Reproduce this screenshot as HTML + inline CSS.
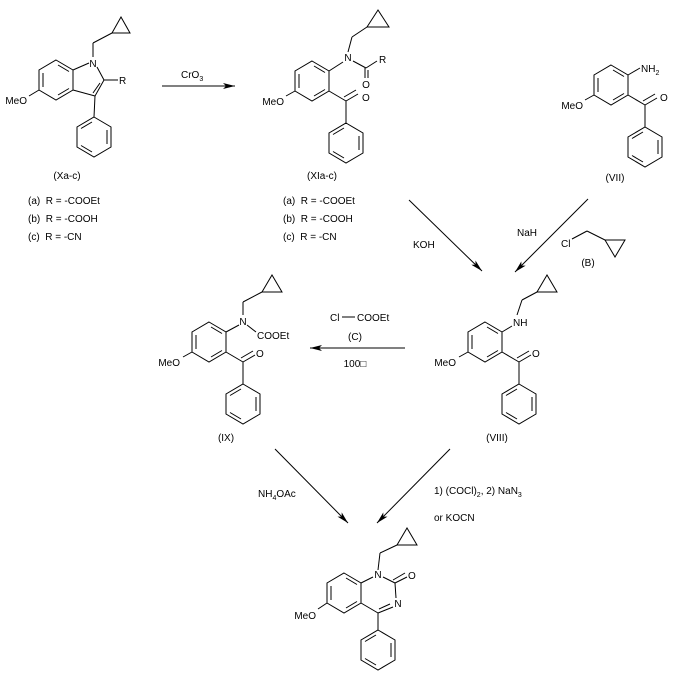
<!DOCTYPE html>
<html><head><meta charset="utf-8"><style>
html,body{margin:0;padding:0;background:#fff}
svg{display:block}
text{font-family:"Liberation Sans",sans-serif;font-size:10px;fill:#000;white-space:pre}
</style></head><body>
<svg width="674" height="684" viewBox="0 0 674 684" xmlns="http://www.w3.org/2000/svg">
<defs>
<marker id="ah" viewBox="0 0 12 6" refX="12" refY="3" markerWidth="12" markerHeight="6" markerUnits="userSpaceOnUse" orient="auto">
<path d="M0,0 L12,3 L0,6 L3,3 z" fill="#000"/></marker>
<g id="benz">
<polygon points="0,-20 17,-10 17,10 0,20 -17,10 -17,-10" fill="none" stroke="#000" stroke-width="1"/>
<line x1="2" y1="-15" x2="13" y2="-8.5" stroke="#000"/>
<line x1="-13" y1="-7" x2="-13" y2="7" stroke="#000"/>
<line x1="13" y1="8.5" x2="2" y2="15" stroke="#000"/>
</g>
<g id="ph">
<polygon points="0,-20 17,-10 17,10 0,20 -17,10 -17,-10" fill="none" stroke="#000" stroke-width="1"/>
<line x1="-2" y1="-15" x2="-13" y2="-8.5" stroke="#000"/>
<line x1="13" y1="-7" x2="13" y2="7" stroke="#000"/>
<line x1="-13" y1="8.5" x2="-2" y2="15" stroke="#000"/>
</g>
<g id="core" stroke="#000" fill="none">
<use href="#benz"/>
<line x1="-17" y1="10" x2="-26" y2="15"/>
<line x1="17" y1="10" x2="34" y2="20"/>
<line x1="34" y1="20" x2="46" y2="13"/>
<line x1="32" y1="16" x2="44" y2="9"/>
<line x1="34" y1="20" x2="34" y2="42"/>
<use href="#ph" x="34" y="62"/>
</g>
</defs>

<!-- Xa-c indole -->
<g stroke="#000" fill="none">
<use href="#benz" x="56" y="80"/>
<line x1="73" y1="70" x2="89" y2="63"/>
<line x1="93" y1="57" x2="93" y2="43"/>
<line x1="93" y1="43" x2="112" y2="33"/>
<polygon points="112,33 121,17 130,33"/>
<line x1="97" y1="67" x2="104" y2="80"/>
<line x1="104" y1="80" x2="95" y2="96"/>
<line x1="100" y1="83" x2="93" y2="93"/>
<line x1="95" y1="96" x2="73" y2="90"/>
<line x1="104" y1="80" x2="118" y2="80"/>
<line x1="95" y1="96" x2="94" y2="117"/>
<use href="#ph" x="94" y="137"/>
<line x1="39" y1="90" x2="29" y2="96"/>
</g>
<text x="93" y="67" text-anchor="middle">N</text>
<text x="119" y="84">R</text>
<text x="27" y="104" text-anchor="end">MeO</text>
<text x="67" y="179" text-anchor="middle">(Xa-c)</text>
<text x="28" y="204">(a)  R = -COOEt</text>
<text x="28" y="222">(b)  R = -COOH</text>
<text x="28" y="240">(c)  R = -CN</text>

<!-- CrO3 arrow -->
<line x1="162" y1="86" x2="235" y2="86" stroke="#000" marker-end="url(#ah)"/>
<text x="181" y="78">CrO<tspan font-size="7" dy="3">3</tspan></text>

<!-- XIa-c -->
<use href="#core" x="312" y="81"/>
<g stroke="#000" fill="none">
<line x1="329" y1="71" x2="343" y2="62"/>
<line x1="348" y1="52" x2="352" y2="37"/>
<line x1="352" y1="37" x2="367" y2="27"/>
<polygon points="367,27 378,10 389,27"/>
<line x1="353" y1="61" x2="366" y2="68"/>
<line x1="366" y1="68" x2="377" y2="61"/>
<line x1="365" y1="68" x2="365" y2="78"/>
<line x1="368" y1="70" x2="368" y2="78"/>
</g>
<text x="348" y="61" text-anchor="middle">N</text>
<text x="379" y="63">R</text>
<text x="366" y="88" text-anchor="middle">O</text>
<text x="362" y="101">O</text>
<text x="284" y="105" text-anchor="end">MeO</text>
<text x="322" y="179" text-anchor="middle">(XIa-c)</text>
<text x="283" y="204">(a)  R = -COOEt</text>
<text x="283" y="222">(b)  R = -COOH</text>
<text x="283" y="240">(c)  R = -CN</text>

<!-- VII -->
<use href="#core" x="611" y="85"/>
<line x1="628" y1="75" x2="640" y2="68" stroke="#000"/>
<text x="641" y="72">NH<tspan font-size="7" dy="3">2</tspan></text>
<text x="660" y="101">O</text>
<text x="583" y="109" text-anchor="end">MeO</text>
<text x="615" y="181" text-anchor="middle">(VII)</text>

<!-- KOH / NaH arrows -->
<line x1="409" y1="200" x2="482" y2="271" stroke="#000" marker-end="url(#ah)"/>
<line x1="588" y1="199" x2="515" y2="272" stroke="#000" marker-end="url(#ah)"/>
<text x="413" y="248">KOH</text>
<text x="517" y="236">NaH</text>
<text x="561" y="247">Cl</text>
<g stroke="#000" fill="none">
<line x1="572" y1="239" x2="587" y2="231"/>
<line x1="587" y1="231" x2="605" y2="240"/>
<polygon points="605,240 625,240 615,257"/>
</g>
<text x="588" y="266" text-anchor="middle">(B)</text>

<!-- VIII -->
<use href="#core" x="485" y="342"/>
<g stroke="#000" fill="none">
<line x1="502" y1="332" x2="512" y2="326"/>
<line x1="517" y1="315" x2="522" y2="300"/>
<line x1="522" y1="300" x2="537" y2="292"/>
<polygon points="537,292 547,275 557,292"/>
</g>
<text x="513" y="326">NH</text>
<text x="532" y="357">O</text>
<text x="456" y="366" text-anchor="end">MeO</text>
<text x="497" y="441" text-anchor="middle">(VIII)</text>

<!-- C arrow -->
<line x1="405" y1="348" x2="310" y2="348" stroke="#000" marker-end="url(#ah)"/>
<text x="330" y="321">Cl</text>
<line x1="342" y1="317" x2="355" y2="317" stroke="#000"/>
<text x="357" y="321">COOEt</text>
<text x="355" y="340" text-anchor="middle">(C)</text>
<text x="355" y="367" text-anchor="middle">100□</text>

<!-- IX -->
<use href="#core" x="209" y="342"/>
<g stroke="#000" fill="none">
<line x1="226" y1="332" x2="239" y2="325"/>
<line x1="243" y1="315" x2="243" y2="302"/>
<line x1="243" y1="302" x2="262" y2="292"/>
<polygon points="262,292 272,275 282,292"/>
<line x1="247" y1="325" x2="256" y2="332"/>
</g>
<text x="243" y="325" text-anchor="middle">N</text>
<text x="257" y="339">COOEt</text>
<text x="256" y="357">O</text>
<text x="180" y="366" text-anchor="end">MeO</text>
<text x="226" y="441" text-anchor="middle">(IX)</text>

<!-- bottom arrows -->
<line x1="275" y1="449" x2="348" y2="523" stroke="#000" marker-end="url(#ah)"/>
<line x1="450" y1="449" x2="377" y2="523" stroke="#000" marker-end="url(#ah)"/>
<text x="258" y="497">NH<tspan font-size="7" dy="3">4</tspan><tspan dy="-3">OAc</tspan></text>
<text x="434" y="494">1) (COCl)<tspan font-size="7" dy="3">2</tspan><tspan dy="-3">, 2) NaN</tspan><tspan font-size="7" dy="3">3</tspan></text>
<text x="434" y="521">or KOCN</text>

<!-- product -->
<g stroke="#000" fill="none">
<use href="#benz" x="344" y="593"/>
<line x1="361" y1="583" x2="373" y2="577"/>
<line x1="383" y1="577" x2="395" y2="583"/>
<line x1="395" y1="583" x2="407" y2="577"/>
<line x1="393" y1="580" x2="405" y2="573"/>
<line x1="395" y1="583" x2="396" y2="598"/>
<line x1="393" y1="607" x2="378" y2="613"/>
<line x1="390" y1="604" x2="379" y2="609"/>
<line x1="378" y1="613" x2="361" y2="603"/>
<line x1="378" y1="570" x2="380" y2="553"/>
<line x1="380" y1="553" x2="397" y2="545"/>
<polygon points="397,545 407,528 417,545"/>
<line x1="378" y1="613" x2="378" y2="630"/>
<line x1="327" y1="603" x2="318" y2="609"/>
</g>
<use href="#ph" x="378" y="650"/>
<text x="378" y="578" text-anchor="middle">N</text>
<text x="408" y="579">O</text>
<text x="398" y="607" text-anchor="middle">N</text>
<text x="316" y="619" text-anchor="end">MeO</text>
</svg>
</body></html>
